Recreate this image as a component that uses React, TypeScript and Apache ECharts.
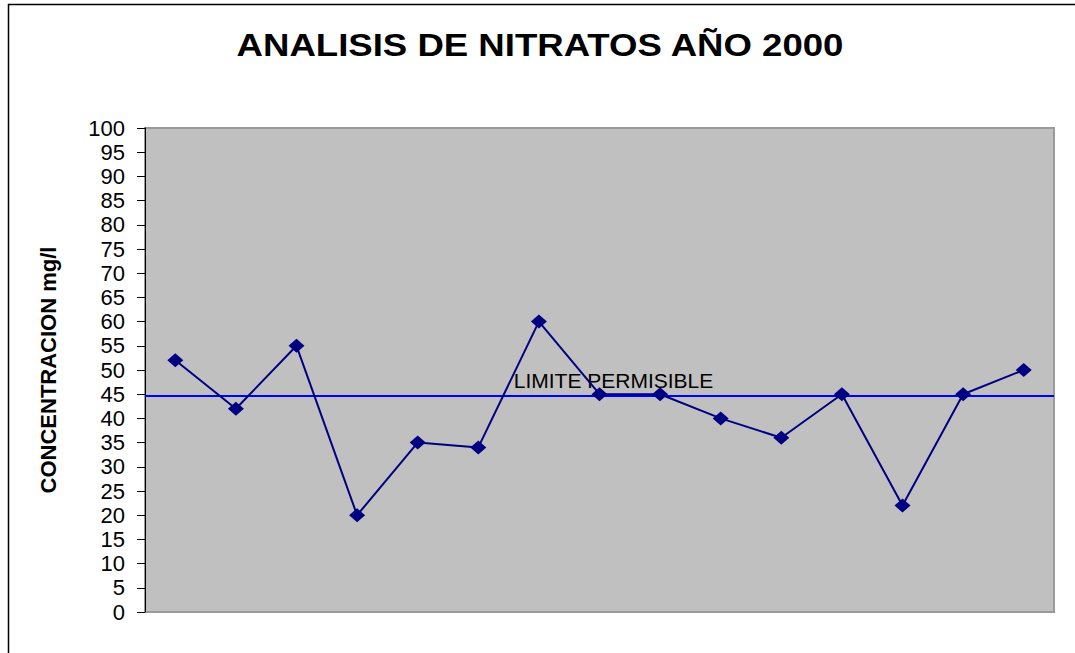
import React, { useEffect, useRef } from "react";
import * as echarts from "echarts";

const categories = ["1", "2", "3", "4", "5", "6", "7", "8", "9", "10", "11", "12", "13", "14", "15"];
const nitratos = [52, 42, 55, 20, 35, 34, 60, 45, 45, 40, 36, 45, 22, 45, 50];
const limite = 44.6;
const titleText = "ANALISIS DE NITRATOS AÑO 2000";
const yAxisName = "CONCENTRACION mg/l";
const limitLabel = "LIMITE PERMISIBLE";

const FONT = "Arial, 'Liberation Sans', sans-serif";

export default function App() {
  const ref = useRef<HTMLDivElement>(null);
  useEffect(() => {
    if (!ref.current) return;
    const chart = echarts.init(ref.current, null, { renderer: "svg" });
    chart.setOption({
      animation: false,
      backgroundColor: "#ffffff",
      graphic: [
        {
          type: "rect",
          shape: { x: 8.5, y: 4.5, width: 1200, height: 800 },
          style: { fill: "none", stroke: "#000", lineWidth: 1.5 },
          silent: true,
          z: 100,
        },
        {
          type: "text",
          x: 540,
          y: 45,
          scaleX: 1.18,
          silent: true,
          style: {
            text: titleText,
            x: 0,
            y: 0,
            textAlign: "center",
            textVerticalAlign: "middle",
            fontFamily: FONT,
            fontWeight: "bold",
            fontSize: 31,
            fill: "#000",
          },
        },
      ],
      grid: {
        left: 145,
        top: 128,
        right: 21,
        bottom: 41,
        show: true,
        backgroundColor: "#c0c0c0",
        borderColor: "#9a9a9a",
        borderWidth: 2,
      },
      xAxis: {
        type: "category",
        data: categories,
        boundaryGap: true,
        axisLine: { show: false },
        axisTick: { show: false },
        axisLabel: { show: false },
      },
      yAxis: {
        type: "value",
        min: 0,
        max: 100,
        interval: 5,
        name: yAxisName,
        nameLocation: "middle",
        nameGap: 86,
        nameTextStyle: { fontFamily: FONT, fontWeight: "bold", fontSize: 22, color: "#000" },
        axisLine: { show: true, lineStyle: { color: "#000", width: 1 } },
        axisTick: { show: true, length: 8, lineStyle: { color: "#000" } },
        axisLabel: { fontFamily: FONT, fontSize: 22, color: "#000", margin: 20 },
        splitLine: { show: false },
      },
      series: [
        {
          type: "line",
          data: nitratos,
          symbol: "diamond",
          symbolSize: [16, 14],
          lineStyle: { color: "#000080", width: 2 },
          itemStyle: { color: "#000080" },
          z: 3,
          markLine: {
            silent: true,
            symbol: "none",
            data: [{ yAxis: limite }],
            lineStyle: { color: "#0000ff", width: 2, type: "solid" },
            label: {
              show: true,
              position: "middle",
              formatter: limitLabel,
              fontFamily: FONT,
              fontSize: 21,
              color: "#000",
              distance: 5,
              offset: [14, 0],
            },
            z: 2,
          },
        },
      ],
    });
    return () => chart.dispose();
  }, []);
  return <div ref={ref} style={{ position: "absolute", left: 0, top: 0, width: 1075, height: 653 }} />;
}
